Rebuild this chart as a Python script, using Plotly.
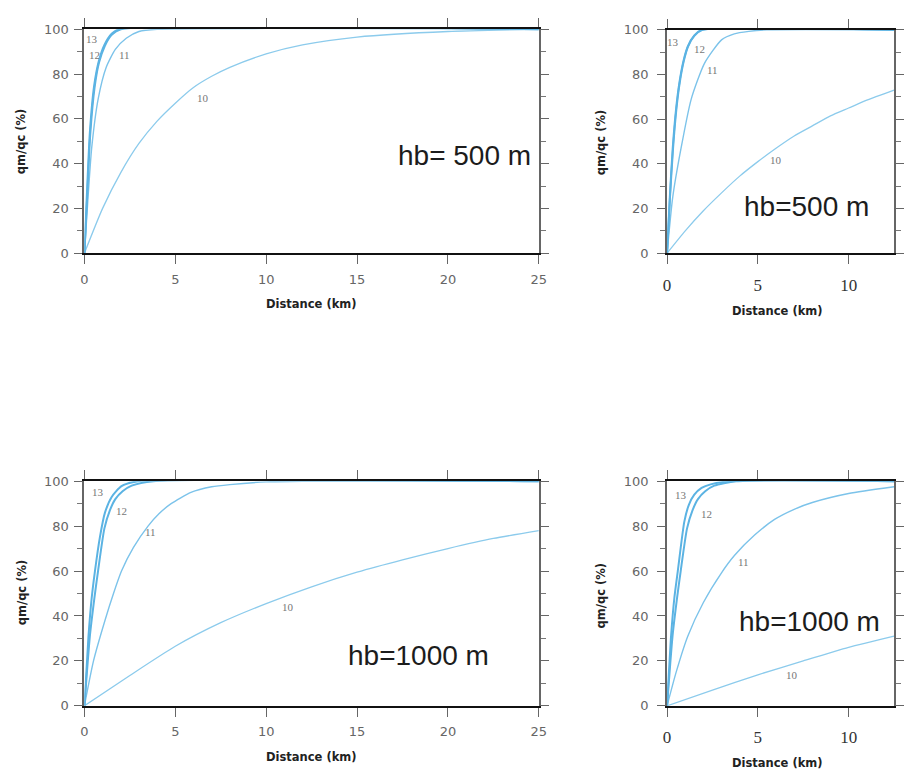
import plotly.graph_objects as go

W, H = 904, 780

# ---------------- data ----------------
# Panel A: hb=500 m, 0-25 km
a10_x = [0, 1, 2, 3, 4, 5, 6, 7, 8, 10, 12, 15, 20, 25]
a10_y = [0, 20, 36, 49, 59, 67, 74, 79, 83, 89, 93, 96.5, 99, 100]
a11_x = [0, 0.2, 0.4, 0.76, 1.2, 1.7, 2.3, 3, 4, 25]
a11_y = [0, 25, 47, 69, 83, 91, 96, 99, 100, 100]
a12_x = [0, 0.15, 0.32, 0.56, 0.8, 1.12, 1.5, 2.0, 25]
a12_y = [0, 25, 53, 74, 85, 92.5, 97.5, 100, 100]
a13_x = [0, 0.13, 0.3, 0.54, 0.8, 1.1, 1.5, 1.9, 25]
a13_y = [0, 25, 54, 75, 86, 93, 98, 100, 100]

# Panel B: hb=500 m, 0-12.5 km
b10_x = [0, 1, 2, 3, 4, 5, 6, 7, 8, 9, 10, 11, 12.5]
b10_y = [0, 10, 19, 27, 34.5, 41, 47, 52.5, 57, 61.5, 65, 68.5, 73]
b11_x = [0, 0.31, 0.77, 1.33, 2.06, 3.0, 3.7, 4.5, 5.5, 12.5]
b11_y = [0, 25, 47, 69, 85, 95.5, 98.2, 99.3, 100, 100]
b12_x = [0, 0.16, 0.33, 0.52, 0.7, 0.92, 1.16, 1.5, 1.95, 12.5]
b12_y = [0, 25, 47, 65, 76.5, 86, 92.6, 97.3, 100, 100]
b13_x = [0, 0.15, 0.31, 0.5, 0.68, 0.9, 1.14, 1.5, 1.9, 12.5]
b13_y = [0, 25, 47, 65, 76.5, 86, 92.6, 97.5, 100, 100]

# Panel C: hb=1000 m, 0-25 km
c10_x = [0, 2.5, 5, 7.5, 10, 12.5, 15, 17.5, 20, 22.5, 25]
c10_y = [0, 13.5, 26.5, 37, 45.5, 53, 59.5, 65, 70, 74.5, 78]
c11_x = [0, 0.5, 1.13, 1.6, 2.04, 2.7, 3.5, 4.1, 4.77, 5.86, 7, 8, 10, 12, 25]
c11_y = [0, 20, 38, 50, 60, 70.5, 80, 85.5, 90, 95, 97.5, 98.5, 99.7, 100, 100]
c12_x = [0, 0.3, 0.55, 0.75, 1.1, 1.4, 1.7, 2.1, 2.6, 3.8, 25]
c12_y = [0, 31, 48, 60, 79, 87, 92, 95.5, 98, 100, 100]
c13_x = [0, 0.22, 0.4, 0.58, 0.85, 1.13, 1.5, 2.04, 2.95, 25]
c13_y = [0, 30.6, 48, 60, 75, 86, 93, 97.8, 100, 100]

# Panel D: hb=1000 m, 0-12.5 km
d10_x = [0, 2.5, 5, 7.5, 10, 12.5]
d10_y = [0, 7, 13.8, 20, 26, 31]
d11_x = [0, 0.5, 1.14, 2, 2.98, 3.72, 4.82, 5.92, 7, 8, 10, 12.5]
d11_y = [0, 15, 31, 46, 59, 67, 76, 83, 87.5, 90.5, 94.5, 97.5]
d12_x = [0, 0.3, 0.55, 0.75, 1.1, 1.4, 1.7, 2.1, 2.6, 3.8, 12.5]
d12_y = [0, 31, 48, 60, 79, 87, 92, 95.5, 98, 100, 100]
d13_x = [0, 0.22, 0.4, 0.59, 0.95, 1.2, 1.5, 1.9, 2.4, 3.5, 12.5]
d13_y = [0, 31, 48, 60, 82, 89.5, 94, 97, 98.6, 100, 100]

curve_names = ["10", "11", "12", "13"]
panel_titles = ["hb= 500 m", "hb=500 m", "hb=1000 m", "hb=1000 m"]
x_ranges = [[0, 25], [0, 12.5], [0, 25], [0, 12.5]]
x_ticks = [[0, 5, 10, 15, 20, 25], [0, 5, 10], [0, 5, 10, 15, 20, 25], [0, 5, 10]]
y_ticks = [0, 20, 40, 60, 80, 100]
x_title = "Distance (km)"
y_title = "qm/qc (%)"

# label positions (data coords) for curve numbers
label_pos = [
    {"13": (0.40, 95.6), "12": (0.58, 88.3), "11": (2.21, 88.7), "10": (6.55, 69.5)},
    {"13": (0.31, 94.6), "12": (1.77, 91.6), "11": (2.50, 82.1), "10": (6.0, 41.8)},
    {"13": (0.72, 95.0), "12": (2.03, 86.7), "11": (3.66, 77.4), "10": (11.2, 44.2)},
    {"13": (0.77, 94.0), "12": (2.15, 85.6), "11": (4.20, 64.1), "10": (6.9, 13.9)},
]

panels = [
    [(a10_x, a10_y), (a11_x, a11_y), (a12_x, a12_y), (a13_x, a13_y)],
    [(b10_x, b10_y), (b11_x, b11_y), (b12_x, b12_y), (b13_x, b13_y)],
    [(c10_x, c10_y), (c11_x, c11_y), (c12_x, c12_y), (c13_x, c13_y)],
    [(d10_x, d10_y), (d11_x, d11_y), (d12_x, d12_y), (d13_x, d13_y)],
]

# ---------------- layout geometry (pixels) ----------------
px_x = [(81.5, 542.0), (672.0, 902.0), (81.5, 542.0), (672.0, 902.0)]
px_y = [(22.7, 251.0), (23.3, 251.0), (483.5, 712.5), (483.5, 712.5)]
title_px = [(467, 151), (813, 203), (420, 661), (816, 627)]
xlab_px = [(312, 303), (784, 310), (312, 765), (784, 771)]
ylab_px = [(18, 137), (605, 138), (18, 597), (605, 600)]

line_colors = ["#8ccbec", "#7cc3ea", "#5bb3e3", "#5bb3e3"]
line_widths = [1.3, 1.4, 2.0, 2.0]

fig = go.Figure()
layout = dict(
    width=W, height=H, margin=dict(l=0, r=0, t=0, b=0),
    paper_bgcolor="white", plot_bgcolor="white", showlegend=False,
)
annotations = []

for i in range(4):
    xa = "x" if i == 0 else f"x{i+1}"
    ya = "y" if i == 0 else f"y{i+1}"
    for j, (xs, ys) in enumerate(panels[i]):
        fig.add_trace(go.Scatter(
            x=xs, y=ys, mode="lines", xaxis=xa, yaxis=ya,
            line=dict(color=line_colors[j], width=line_widths[j], shape="spline", smoothing=0.6),
            name=curve_names[j], hoverinfo="skip",
        ))
    right = i in (1, 3)
    x0, x1 = px_x[i]
    y0, y1 = px_y[i]
    xkey = "xaxis" if i == 0 else f"xaxis{i+1}"
    ykey = "yaxis" if i == 0 else f"yaxis{i+1}"
    layout[xkey] = dict(
        domain=[x0 / W, x1 / W], range=x_ranges[i], anchor=ya,
        tickvals=x_ticks[i], ticks="outside", ticklen=9, tickwidth=1.2, tickcolor="#666",
        showline=True, linecolor="#111", linewidth=2, mirror="allticks",
        showgrid=False, zeroline=False, fixedrange=True,
        tickfont=dict(family="Liberation Serif" if right else "DejaVu Sans",
                      size=17 if right else 13, color="#333" if right else "#666"),
        ticklabelstandoff=6 if right else 4,
    )
    layout[ykey] = dict(
        domain=[1 - y1 / H, 1 - y0 / H], range=[0, 100], anchor=xa,
        tickvals=y_ticks, ticks="outside", ticklen=8, tickwidth=1.2, tickcolor="#666",
        minor=dict(dtick=10, ticks="outside", ticklen=5, tickcolor="#777", tickwidth=1),
        showline=True, linecolor="#666", linewidth=2, mirror="allticks",
        showgrid=False, zeroline=False, fixedrange=True,
        tickfont=dict(family="DejaVu Sans", size=13, color="#666"),
        ticklabelstandoff=6 if right else 3,
    )
    # curve number labels
    for name, (lx, ly) in label_pos[i].items():
        annotations.append(dict(
            x=lx, y=ly, xref=xa, yref=ya, text=name, showarrow=False,
            xanchor="center", yanchor="middle",
            font=dict(family="Liberation Serif", size=11, color="#777"),
        ))
    # panel title
    tx, ty = title_px[i]
    annotations.append(dict(
        x=tx / W, y=1 - ty / H, xref="paper", yref="paper", text=panel_titles[i],
        showarrow=False, xanchor="center", yanchor="middle",
        font=dict(family="Liberation Sans", size=28, color="#1c1c1c"),
    ))
    # axis titles
    lx, ly = xlab_px[i]
    annotations.append(dict(
        x=lx / W, y=1 - ly / H, xref="paper", yref="paper", text=f"<b>{x_title}</b>",
        showarrow=False, xanchor="center", yanchor="middle",
        font=dict(family="DejaVu Sans", size=11.5, color="#222"),
    ))
    lx, ly = ylab_px[i]
    annotations.append(dict(
        x=lx / W, y=1 - ly / H, xref="paper", yref="paper", text=f"<b>{y_title}</b>",
        showarrow=False, textangle=-90, xanchor="center", yanchor="middle",
        font=dict(family="DejaVu Sans", size=11.5, color="#222"),
    ))

layout["annotations"] = annotations
fig.update_layout(**layout)
fig.write_html("out.html")
